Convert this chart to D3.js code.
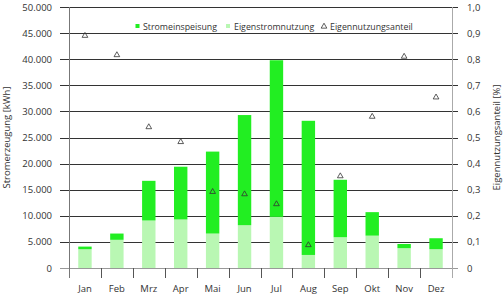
<!DOCTYPE html>
<html>
<head>
<meta charset="utf-8">
<script src="https://cdn.jsdelivr.net/npm/d3@7"></script>
<style>
  body { margin: 0; background: #fff; }
  svg text { font-family: "Open Sans", sans-serif; fill: #333; }
</style>
</head>
<body>
<div id="chart"></div>
<script>
// Monthly data
var months = ["Jan", "Feb", "Mrz", "Apr", "Mai", "Jun", "Jul", "Aug", "Sep", "Okt", "Nov", "Dez"];
var eigenstrom = [3600, 5400, 9100, 9300, 6600, 8200, 9800, 2500, 5900, 6200, 3800, 3600];   // kWh
var einspeisung = [500, 1200, 7600, 10100, 15700, 21100, 30000, 25700, 11000, 4500, 800, 2100]; // kWh
var anteil = [0.89, 0.816, 0.54, 0.483, 0.292, 0.283, 0.245, 0.088, 0.352, 0.58, 0.81, 0.654];
var leftTicks = [0, 5000, 10000, 15000, 20000, 25000, 30000, 35000, 40000, 45000, 50000];
var rightTicks = [0, 0.1, 0.2, 0.3, 0.4, 0.5, 0.6, 0.7, 0.8, 0.9, 1.0];

var darkGreen = "#22ee22", lightGreen = "#b9f7b3";

var W = 504, H = 298;
var margin = { top: 7, right: 52, bottom: 30, left: 69 },
    width = W - margin.left - margin.right,
    height = H - margin.top - margin.bottom;

var svg = d3.select("#chart").append("svg")
    .attr("width", W).attr("height", H);
var g = svg.append("g")
    .attr("transform", "translate(" + margin.left + "," + margin.top + ")");

var x = d3.scaleBand().domain(months).range([0, width]).paddingInner(0.58).paddingOuter(0.29);
var xb = d3.scaleBand().domain(months).range([0, width]); // for bottom ticks
var y = d3.scaleLinear().domain([0, 50000]).range([height, 0]);
var y2 = d3.scaleLinear().domain([0, 1]).range([height, 0]);

var fmtL = d3.formatLocale({ decimal: ",", thousands: ".", grouping: [3], currency: ["", "€"] });
var fmtKwh = fmtL.format(",.0f"), fmtPct = fmtL.format(".1f");

// Gridlines, with the tick stubs sticking out on both sides
g.append("g").selectAll("line").data(leftTicks).join("line")
    .attr("x1", -9).attr("x2", width + 6)
    .attr("y1", d => Math.round(y(d)) + 0.5).attr("y2", d => Math.round(y(d)) + 0.5)
    .attr("stroke", d => d == 0 ? "#999" : "#333").attr("stroke-width", 1);

// Left axis labels
g.append("g").selectAll("text").data(leftTicks).join("text")
    .attr("x", -17).attr("y", d => y(d) + 3.5)
    .attr("text-anchor", "end").style("font-size", "9.5px")
    .text(d => fmtKwh(d));

// Right axis labels
g.append("g").selectAll("text").data(rightTicks).join("text")
    .attr("x", width + 15).attr("y", d => y2(d) + 3.5)
    .style("font-size", "9.5px")
    .text(d => d == 0 ? "0" : fmtPct(d));

// Stacked bars
var barG = g.append("g");
months.forEach(function (m, i) {
    barG.append("rect")
        .attr("x", x(m)).attr("width", x.bandwidth())
        .attr("y", y(eigenstrom[i])).attr("height", height - y(eigenstrom[i]))
        .attr("fill", lightGreen);
    barG.append("rect")
        .attr("x", x(m)).attr("width", x.bandwidth())
        .attr("y", y(eigenstrom[i] + einspeisung[i]))
        .attr("height", y(eigenstrom[i]) - y(eigenstrom[i] + einspeisung[i]))
        .attr("fill", darkGreen);
});

// Vertical axis lines
g.append("line").attr("x1", 0.5).attr("x2", 0.5).attr("y1", 0).attr("y2", height + 10)
    .attr("stroke", "#777");
g.append("line").attr("x1", width + 0.5).attr("x2", width + 0.5).attr("y1", 0).attr("y2", height + 10)
    .attr("stroke", "#aaa");

// Bottom category ticks
g.append("g").selectAll("line").data(months.slice(1)).join("line")
    .attr("x1", d => Math.round(xb(d)) + 0.5).attr("x2", d => Math.round(xb(d)) + 0.5)
    .attr("y1", height).attr("y2", height + 10)
    .attr("stroke", "#555");

g.append("g").selectAll("text").data(months).join("text")
    .attr("x", d => xb(d) + xb.bandwidth() / 2).attr("y", height + 24)
    .attr("text-anchor", "middle").style("font-size", "9.5px")
    .text(d => d);

// Triangles for Eigennutzungsanteil
var tri = d3.symbol().type(d3.symbolTriangle).size(14);
g.append("g").selectAll("path").data(anteil).join("path")
    .attr("d", tri)
    .attr("transform", (d, i) => "translate(" + (xb(months[i]) + xb.bandwidth() / 2) + "," + y2(d) + ")")
    .attr("fill", "none").attr("stroke", "#333").attr("stroke-width", 0.8);

// Axis titles
svg.append("text")
    .attr("transform", "translate(10," + (margin.top + height / 2) + ") rotate(-90)")
    .attr("text-anchor", "middle").style("font-size", "9.5px")
    .text("Stromerzeugung [kWh]");
svg.append("text")
    .attr("transform", "translate(500," + (margin.top + height / 2) + ") rotate(-90)")
    .attr("text-anchor", "middle").style("font-size", "9.5px")
    .text("Eigennutzungsanteil [%]");

// Legend
var leg = svg.append("g").attr("transform", "translate(0,26)");
leg.append("rect").attr("x", 135.5).attr("y", -2).attr("width", 4).attr("height", 4).attr("fill", darkGreen);
leg.append("text").attr("x", 143).attr("y", 3.5).style("font-size", "8.8px").text("Stromeinspeisung");
leg.append("rect").attr("x", 226).attr("y", -2).attr("width", 4).attr("height", 4).attr("fill", lightGreen);
leg.append("text").attr("x", 234).attr("y", 3.5).style("font-size", "8.8px").text("Eigenstromnutzung");
leg.append("path").attr("d", tri).attr("transform", "translate(324,0.5)")
    .attr("fill", "none").attr("stroke", "#333").attr("stroke-width", 0.8);
leg.append("text").attr("x", 330).attr("y", 3.5).style("font-size", "8.8px").text("Eigennutzungsanteil");
</script>
</body>
</html>
